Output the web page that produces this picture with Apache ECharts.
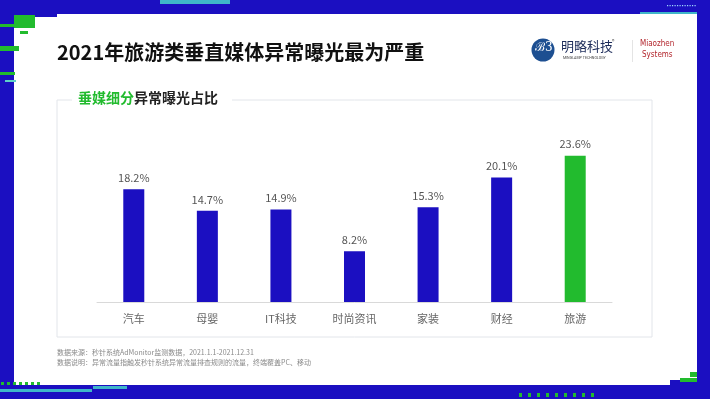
<!DOCTYPE html>
<html>
<head>
<meta charset="utf-8">
<script src="https://cdn.jsdelivr.net/npm/echarts@6/dist/echarts.min.js"></script>
<style>
  html, body { margin: 0; padding: 0; background: #fff; }
  #chart { width: 710px; height: 399px; }
</style>
</head>
<body>
<div id="chart"></div>
<script>
const categories = ['汽车', '母婴', 'IT科技', '时尚资讯', '家装', '财经', '旅游']
const values = [18.2, 14.7, 14.9, 8.2, 15.3, 20.1, 23.6]
const highlightIndex = 6

const BLUE = '#1B0FC1'
const GREEN = '#22BB2E'
const FONT = 'Noto Sans CJK SC'

const chart = echarts.init(document.getElementById('chart'))

// 页面边框装饰
const frame = [
  { type: 'rect', shape: { x: 0, y: 0, width: 710, height: 14 }, style: { fill: BLUE } },
  { type: 'rect', shape: { x: 0, y: 0, width: 14, height: 399 }, style: { fill: BLUE } },
  { type: 'rect', shape: { x: 0, y: 385, width: 710, height: 14 }, style: { fill: BLUE } },
  { type: 'rect', shape: { x: 697, y: 0, width: 13, height: 399 }, style: { fill: BLUE } },
  { type: 'rect', shape: { x: 670, y: 380, width: 40, height: 19 }, style: { fill: BLUE } },
  { type: 'rect', shape: { x: 14, y: 14, width: 43, height: 3 }, style: { fill: BLUE } },
  // 绿色像素块
  { type: 'rect', shape: { x: 14, y: 15, width: 21, height: 13 }, style: { fill: GREEN } },
  { type: 'rect', shape: { x: 20, y: 31, width: 8, height: 3 }, style: { fill: GREEN } },
  { type: 'rect', shape: { x: 0, y: 24, width: 14, height: 3 }, style: { fill: GREEN } },
  { type: 'rect', shape: { x: 0, y: 46, width: 19, height: 5 }, style: { fill: GREEN } },
  { type: 'rect', shape: { x: 0, y: 72, width: 15, height: 3 }, style: { fill: GREEN } },
  { type: 'rect', shape: { x: 5, y: 80, width: 11, height: 2 }, style: { fill: '#5fd0c8' } },
  { type: 'rect', shape: { x: 680, y: 378, width: 17, height: 4 }, style: { fill: GREEN } },
  { type: 'rect', shape: { x: 690, y: 372, width: 7, height: 5 }, style: { fill: GREEN } },
  { type: 'rect', shape: { x: 0, y: 389, width: 92, height: 3 }, style: { fill: '#3fb6c9' } },
  { type: 'rect', shape: { x: 93, y: 386, width: 34, height: 3 }, style: { fill: '#3fb6c9' } },
  { type: 'rect', shape: { x: 160, y: 0, width: 70, height: 4 }, style: { fill: '#3fb6c9' } },
  { type: 'rect', shape: { x: 640, y: 12, width: 57, height: 2 }, style: { fill: '#3fb6c9' } },
]
for (let i = 0; i < 7; i++) {
  frame.push({ type: 'rect', shape: { x: 1 + i * 6, y: 382, width: 3, height: 3 }, style: { fill: GREEN } })
}
for (let i = 0; i < 9; i++) {
  frame.push({ type: 'rect', shape: { x: 519 + i * 9, y: 393, width: 3, height: 4 }, style: { fill: GREEN } })
}
for (let i = 0; i < 12; i++) {
  frame.push({ type: 'rect', shape: { x: 667 + i * 2.5, y: 5, width: 1.2, height: 1.2 }, style: { fill: '#9fd6ff' } })
}

const option = {
  backgroundColor: '#fff',
  animation: false,
  title: {
    text: '2021年旅游类垂直媒体异常曝光最为严重',
    left: 52,
    top: 37,
    textStyle: { fontFamily: FONT, fontSize: 20, fontWeight: 'bold', color: '#111' },
  },
  graphic: [
    ...frame,
    // 图表面板
    {
      type: 'rect',
      shape: { x: 57, y: 100, width: 595, height: 237 },
      style: { fill: '#fff', stroke: '#e2e5ea', lineWidth: 1 },
      z: -1,
    },
    { type: 'rect', shape: { x: 72, y: 92, width: 160, height: 16 }, style: { fill: '#fff' }, z: 1 },
    {
      type: 'text',
      left: 78,
      top: 91,
      z: 2,
      style: {
        text: '{g|垂媒细分}{d|异常曝光占比}',
        rich: {
          g: { fontFamily: FONT, fontSize: 14, fontWeight: 'bold', fill: GREEN },
          d: { fontFamily: FONT, fontSize: 14, fontWeight: 'bold', fill: '#222' },
        },
      },
    },
    // 注释
    {
      type: 'text',
      left: 57,
      top: 349,
      style: { text: '数据来源：秒针系统AdMonitor监测数据，2021.1.1-2021.12.31', fontFamily: FONT, fontSize: 7, fill: '#8a8a8a' },
    },
    {
      type: 'text',
      left: 57,
      top: 359,
      style: { text: '数据说明：异常流量指触发秒针系统异常流量排查规则的流量，终端覆盖PC、移动', fontFamily: FONT, fontSize: 7, fill: '#8a8a8a' },
    },
    // logo
    { type: 'circle', shape: { cx: 543, cy: 50, r: 11.5 }, style: { fill: '#1d4f91' } },
    {
      type: 'text',
      left: 535,
      top: 42,
      style: { text: 'ℬ3', fontFamily: 'DejaVu Serif', fontSize: 12, fill: '#fff' },
    },
    {
      type: 'text',
      left: 561,
      top: 40,
      style: { text: '明略科技', fontFamily: FONT, fontSize: 13, fill: '#1d2c5a' },
    },
    { type: 'text', left: 612, top: 39, style: { text: '®', fontFamily: FONT, fontSize: 5, fill: '#555' } },
    {
      type: 'text',
      left: 563,
      top: 56,
      style: { text: 'MINGLAMP TECHNOLOGY', fontFamily: 'Roboto', fontSize: 3.6, fill: '#444' },
    },
    { type: 'rect', shape: { x: 632, y: 40, width: 0.8, height: 22 }, style: { fill: '#ddd' } },
    {
      type: 'text',
      left: 640,
      top: 40,
      style: { text: 'Miaozhen', fontFamily: 'DejaVu Sans Condensed', fontSize: 8, fill: '#b3262d' },
    },
    {
      type: 'text',
      left: 642,
      top: 51,
      style: { text: 'Systems', fontFamily: 'DejaVu Sans Condensed', fontSize: 8, fill: '#b3262d' },
    },
  ],
  grid: {
    left: 97,
    right: 98,
    top: 147,
    bottom: 97,
    containLabel: false,
  },
  xAxis: {
    type: 'category',
    data: categories,
    axisLine: { lineStyle: { color: '#d9d9d9', width: 1 } },
    axisTick: { show: false },
    axisLabel: {
      interval: 0,
      margin: 11,
      fontFamily: FONT,
      fontSize: 11,
      color: '#666',
    },
  },
  yAxis: {
    type: 'value',
    min: 0,
    max: 25,
    show: false,
    splitLine: { show: false },
  },
  series: [
    {
      type: 'bar',
      barWidth: 21,
      data: values.map((v, i) => ({
        value: v,
        itemStyle: { color: i === highlightIndex ? GREEN : BLUE },
      })),
      label: {
        show: true,
        position: 'top',
        distance: 6,
        fontFamily: FONT,
        fontSize: 11,
        color: '#555',
        formatter: '{c}%',
      },
    },
  ],
}
chart.setOption(option)
</script>
</body>
</html>
